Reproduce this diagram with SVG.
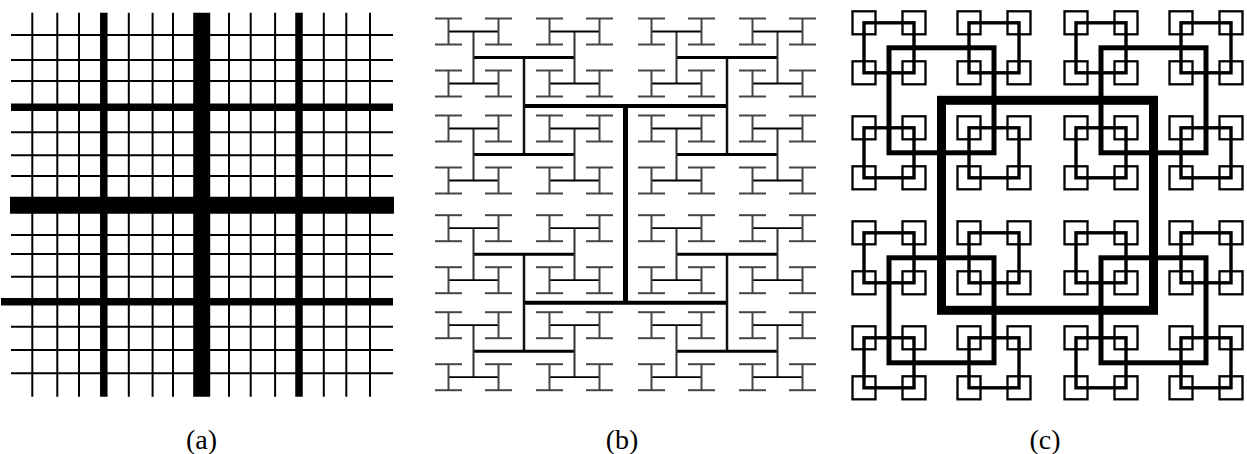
<svg xmlns="http://www.w3.org/2000/svg" xmlns:xlink="http://www.w3.org/1999/xlink" width="1247" height="454" viewBox="0 0 1247 454">
<style>
.a1{stroke:#000;stroke-width:2}
.a2{stroke:#000;stroke-width:7.5}
.a3{stroke:#000;stroke-width:17}
.cap{stroke:#444;stroke-width:2}
.b5{stroke:#000;stroke-width:1.8}
.b4{stroke:#333;stroke-width:2}
.b3{stroke:#000;stroke-width:3}
.b2{stroke:#111;stroke-width:2.5}
.b1{stroke:#000;stroke-width:4}
.b0{stroke:#000;stroke-width:5}
.c{fill:none;stroke:#000}
.lbl{font-family:"Liberation Serif","Times New Roman",serif;font-size:28px;fill:#000;text-anchor:middle}
</style>
<defs>
<g id="leafH">
<line class="b5" x1="-25" y1="0" x2="25" y2="0"/>
<line class="cap" x1="-25" y1="-13" x2="-25" y2="13"/>
<line class="cap" x1="25" y1="-13" x2="25" y2="13"/>
<line class="cap" x1="-38.5" y1="-13" x2="-11.5" y2="-13"/>
<line class="cap" x1="-38.5" y1="13" x2="-11.5" y2="13"/>
<line class="cap" x1="11.5" y1="-13" x2="38.5" y2="-13"/>
<line class="cap" x1="11.5" y1="13" x2="38.5" y2="13"/>
</g>
<g id="h4">
<line class="b4" x1="0" y1="-26" x2="0" y2="26"/>
<use xlink:href="#leafH" href="#leafH" x="0" y="-26"/>
<use xlink:href="#leafH" href="#leafH" x="0" y="26"/>
</g>
<g id="h3">
<line class="b3" x1="-50.5" y1="0" x2="50.5" y2="0"/>
<use xlink:href="#h4" href="#h4" x="-50.5" y="0"/>
<use xlink:href="#h4" href="#h4" x="50.5" y="0"/>
</g>
<g id="sq3">
<rect class="c" x="-11.5" y="-11.5" width="23" height="23" stroke-width="2.3"/>
</g>
<g id="sq2">
<rect class="c" x="-25" y="-25" width="50" height="50" stroke-width="3.4"/>
<use xlink:href="#sq3" href="#sq3" x="-25" y="-25"/>
<use xlink:href="#sq3" href="#sq3" x="25" y="-25"/>
<use xlink:href="#sq3" href="#sq3" x="-25" y="25"/>
<use xlink:href="#sq3" href="#sq3" x="25" y="25"/>
</g>
<g id="sq1">
<rect class="c" x="-52.5" y="-52.5" width="105" height="105" stroke-width="5"/>
<use xlink:href="#sq2" href="#sq2" x="-52.5" y="-52.5"/>
<use xlink:href="#sq2" href="#sq2" x="52.5" y="-52.5"/>
<use xlink:href="#sq2" href="#sq2" x="-52.5" y="52.5"/>
<use xlink:href="#sq2" href="#sq2" x="52.5" y="52.5"/>
</g>
</defs>
<rect width="1247" height="454" fill="#fff"/>

<g id="panel-a">
<g id="a-vertical">
<line class="a1" x1="32.3" y1="12.7" x2="32.3" y2="396.7"/>
<line class="a1" x1="57.3" y1="12.7" x2="57.3" y2="396.7"/>
<line class="a1" x1="79" y1="12.7" x2="79" y2="396.7"/>
<line class="a2" x1="103.8" y1="12.7" x2="103.8" y2="396.7"/>
<line class="a1" x1="128.8" y1="12.7" x2="128.8" y2="396.7"/>
<line class="a1" x1="152.6" y1="12.7" x2="152.6" y2="396.7"/>
<line class="a1" x1="173" y1="12.7" x2="173" y2="396.7"/>
<line class="a3" x1="201.7" y1="12.7" x2="201.7" y2="396.7"/>
<line class="a1" x1="229" y1="12.7" x2="229" y2="396.7"/>
<line class="a1" x1="250.7" y1="12.7" x2="250.7" y2="396.7"/>
<line class="a1" x1="275.1" y1="12.7" x2="275.1" y2="396.7"/>
<line class="a2" x1="299" y1="12.7" x2="299" y2="396.7"/>
<line class="a1" x1="323.8" y1="12.7" x2="323.8" y2="396.7"/>
<line class="a1" x1="346.3" y1="12.7" x2="346.3" y2="396.7"/>
<line class="a1" x1="370" y1="12.7" x2="370" y2="396.7"/>
</g>
<g id="a-horizontal">
<line class="a1" x1="11" y1="35" x2="393" y2="35"/>
<line class="a1" x1="11" y1="60" x2="393" y2="60"/>
<line class="a1" x1="11" y1="81" x2="393" y2="81"/>
<line class="a2" x1="11" y1="107.3" x2="393" y2="107.3"/>
<line class="a1" x1="11" y1="132.3" x2="393" y2="132.3"/>
<line class="a1" x1="11" y1="155.3" x2="393" y2="155.3"/>
<line class="a1" x1="11" y1="176" x2="393" y2="176"/>
<line class="a3" x1="10" y1="205.3" x2="394" y2="205.3"/>
<line class="a1" x1="11" y1="235" x2="393" y2="235"/>
<line class="a1" x1="11" y1="254" x2="393" y2="254"/>
<line class="a1" x1="11" y1="276.7" x2="393" y2="276.7"/>
<line class="a2" x1="1" y1="301.7" x2="393" y2="301.7"/>
<line class="a1" x1="11" y1="326.7" x2="393" y2="326.7"/>
<line class="a1" x1="11" y1="350" x2="393" y2="350"/>
<line class="a1" x1="11" y1="373.3" x2="393" y2="373.3"/>
</g>
</g>

<g id="panel-b">
<line class="b0" x1="625.5" y1="106" x2="625.5" y2="302.7"/>
<line class="b1" x1="524" y1="106" x2="727" y2="106"/>
<line class="b1" x1="524" y1="302.7" x2="727" y2="302.7"/>
<line class="b2" x1="524" y1="57.5" x2="524" y2="154.5"/>
<line class="b2" x1="727" y1="57.5" x2="727" y2="154.5"/>
<line class="b2" x1="524" y1="254.2" x2="524" y2="351.2"/>
<line class="b2" x1="727" y1="254.2" x2="727" y2="351.2"/>
<use xlink:href="#h3" href="#h3" x="524" y="57.5"/>
<use xlink:href="#h3" href="#h3" x="524" y="154.5"/>
<use xlink:href="#h3" href="#h3" x="524" y="254.2"/>
<use xlink:href="#h3" href="#h3" x="524" y="351.2"/>
<use xlink:href="#h3" href="#h3" x="727" y="57.5"/>
<use xlink:href="#h3" href="#h3" x="727" y="154.5"/>
<use xlink:href="#h3" href="#h3" x="727" y="254.2"/>
<use xlink:href="#h3" href="#h3" x="727" y="351.2"/>
</g>

<g id="panel-c">
<rect class="c" x="941.5" y="100.3" width="212" height="210" stroke-width="9"/>
<use xlink:href="#sq1" href="#sq1" x="941.5" y="100.3"/>
<use xlink:href="#sq1" href="#sq1" x="1153.5" y="100.3"/>
<use xlink:href="#sq1" href="#sq1" x="941.5" y="310.3"/>
<use xlink:href="#sq1" href="#sq1" x="1153.5" y="310.3"/>
</g>

<g id="labels">
<text class="lbl" x="201.5" y="449">(a)</text>
<text class="lbl" x="622" y="449">(b)</text>
<text class="lbl" x="1045" y="449">(c)</text>
</g>
</svg>
